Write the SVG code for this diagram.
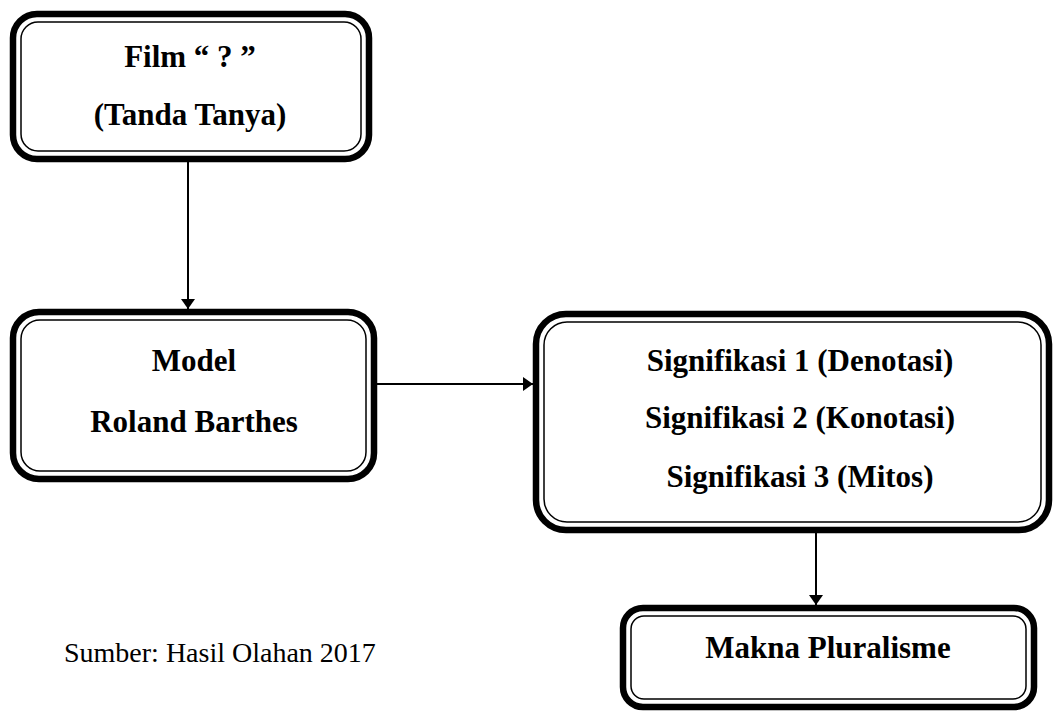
<svg xmlns="http://www.w3.org/2000/svg" width="1053" height="713" viewBox="0 0 1053 713">
<style>
.outer{fill:#fff;stroke:#000;stroke-width:6.5}
.inner{fill:none;stroke:#000;stroke-width:1.5}
.t{font-family:"Liberation Serif","Times New Roman",serif;font-weight:bold;font-size:31px;text-anchor:middle;fill:#000}
.src{font-family:"Liberation Serif","Times New Roman",serif;font-size:28px;fill:#000}
.con{stroke:#000;stroke-width:2;fill:none}
</style>
<defs>
<marker id="ah" viewBox="0 0 10 14" refX="10" refY="7" markerWidth="10" markerHeight="14" orient="auto" markerUnits="userSpaceOnUse">
<path d="M0,0 L10,7 L0,14 z" fill="#000"/>
</marker>
</defs>
<rect width="1053" height="713" fill="#fff"/>
<g id="connectors">
<line class="con" x1="188" y1="162" x2="188" y2="309" marker-end="url(#ah)"/>
<line class="con" x1="377" y1="384" x2="533" y2="384" marker-end="url(#ah)"/>
<line class="con" x1="816" y1="533" x2="816" y2="605" marker-end="url(#ah)"/>
</g>
<g id="film">
<rect class="outer" x="13" y="14" width="356" height="145" rx="24"/>
<rect class="inner" x="21" y="22" width="340" height="129" rx="17"/>
<text class="t" x="190" y="67">Film “ ? ”</text>
<text class="t" x="190" y="125">(Tanda Tanya)</text>
</g>
<g id="model">
<rect class="outer" x="13" y="312" width="361" height="167" rx="26"/>
<rect class="inner" x="21" y="320" width="345" height="151" rx="19"/>
<text class="t" x="194" y="371">Model</text>
<text class="t" x="194" y="432">Roland Barthes</text>
</g>
<g id="signifikasi">
<rect class="outer" x="536" y="314" width="513" height="216" rx="30"/>
<rect class="inner" x="544" y="322" width="497" height="200" rx="23"/>
<text class="t" x="800" y="371">Signifikasi 1 (Denotasi)</text>
<text class="t" x="800" y="428">Signifikasi 2 (Konotasi)</text>
<text class="t" x="800" y="487">Signifikasi 3 (Mitos)</text>
</g>
<g id="makna">
<rect class="outer" x="623" y="608" width="411" height="99" rx="20"/>
<rect class="inner" x="631" y="616" width="395" height="83" rx="13"/>
<text class="t" x="828" y="658">Makna Pluralisme</text>
</g>
<text class="src" x="64" y="662">Sumber: Hasil Olahan 2017</text>
</svg>
